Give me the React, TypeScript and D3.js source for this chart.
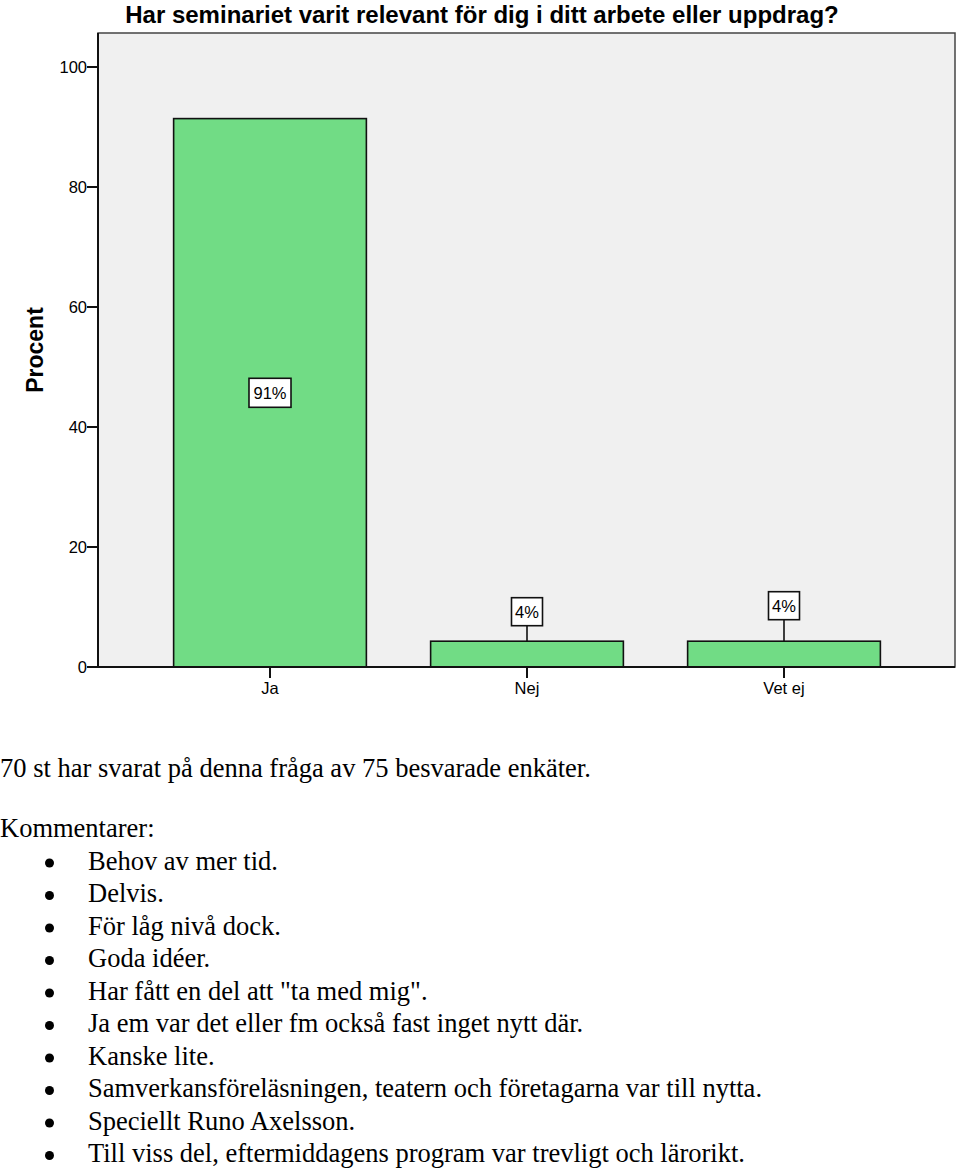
import React from "react";
import * as d3 from "d3";

const categories = ["Ja", "Nej", "Vet ej"];
const values = [91.4, 4.3, 4.3];
const valueLabels = ["91%", "4%", "4%"];
const yTicks = [0, 20, 40, 60, 80, 100];
const title = "Har seminariet varit relevant för dig i ditt arbete eller uppdrag?";
const yTitle = "Procent";
const summary = "70 st har svarat på denna fråga av 75 besvarade enkäter.";
const commentsHeader = "Kommentarer:";
const comments = [
  "Behov av mer tid.",
  "Delvis.",
  "För låg nivå dock.",
  "Goda idéer.",
  "Har fått en del att \"ta med mig\".",
  "Ja em var det eller fm också fast inget nytt där.",
  "Kanske lite.",
  "Samverkansföreläsningen, teatern och företagarna var till nytta.",
  "Speciellt Runo Axelsson.",
  "Till viss del, eftermiddagens program var trevligt och lärorikt.",
];

const W = 960;
const H = 1170;
const plot = { left: 98, right: 955, top: 33, bottom: 667 };
const sans = "'Liberation Sans', Arial, sans-serif";
const serif = "'Liberation Serif', 'Times New Roman', serif";
const serifSize = 26.5;

export default function App() {
  const y = d3.scaleLinear().domain([0, 100]).range([plot.bottom, 67]);
  const x = d3
    .scaleBand<string>()
    .domain(categories)
    .range([141.5, 912.5])
    .paddingInner(0.25)
    .paddingOuter(0.125);

  return (
    <svg
      width={W}
      height={H}
      style={{ position: "absolute", left: 0, top: 0, background: "#fff" }}
    >
      <text
        x={482}
        y={23}
        textAnchor="middle"
        fontFamily={sans}
        fontWeight="bold"
        fontSize={24}
        fill="#000"
      >
        {title}
      </text>
      <rect
        x={plot.left}
        y={plot.top}
        width={plot.right - plot.left}
        height={plot.bottom - plot.top}
        fill="#f0f0f0"
        stroke="#444"
        strokeWidth={1.5}
      />
      {categories.map((c, i) => (
        <rect
          key={c}
          x={x(c)}
          y={y(values[i])}
          width={x.bandwidth()}
          height={plot.bottom - y(values[i])}
          fill="#71dc85"
          stroke="#111"
          strokeWidth={1.6}
        />
      ))}
      {/* axes */}
      <line x1={plot.left} x2={plot.left} y1={plot.top} y2={plot.bottom} stroke="#111" strokeWidth={2} />
      <line x1={plot.left} x2={plot.right} y1={plot.bottom} y2={plot.bottom} stroke="#111" strokeWidth={2} />
      {yTicks.map((t) => (
        <g key={t}>
          <line x1={plot.left - 11} x2={plot.left} y1={y(t)} y2={y(t)} stroke="#111" strokeWidth={2} />
          <text
            x={plot.left - 11}
            y={y(t) + 6}
            textAnchor="end"
            fontFamily={sans}
            fontSize={16.5}
            fill="#000"
          >
            {t}
          </text>
        </g>
      ))}
      {categories.map((c) => {
        const cx = (x(c) as number) + x.bandwidth() / 2;
        return (
          <g key={c}>
            <line x1={cx} x2={cx} y1={plot.bottom} y2={plot.bottom + 11} stroke="#111" strokeWidth={2} />
            <text x={cx} y={plot.bottom + 27} textAnchor="middle" fontFamily={sans} fontSize={16.5} fill="#000">
              {c}
            </text>
          </g>
        );
      })}
      <text
        transform={`translate(43,${(plot.top + plot.bottom) / 2}) rotate(-90)`}
        textAnchor="middle"
        fontFamily={sans}
        fontWeight="bold"
        fontSize={23}
        fill="#000"
      >
        {yTitle}
      </text>
      {/* value labels */}
      {categories.map((c, i) => {
        const cx = (x(c) as number) + x.bandwidth() / 2;
        const top = y(values[i]);
        const inside = plot.bottom - top > 60;
        const boxW = valueLabels[i].length > 2 ? 42 : 31;
        const boxH = inside ? 29 : 28;
        const cy = inside ? (top + plot.bottom) / 2 : i === 1 ? top - 29.5 : top - 35.5;
        return (
          <g key={c}>
            {!inside && (
              <line x1={cx} x2={cx} y1={cy + boxH / 2} y2={top} stroke="#111" strokeWidth={1.6} />
            )}
            <rect
              x={cx - boxW / 2}
              y={cy - boxH / 2}
              width={boxW}
              height={boxH}
              fill="#fff"
              stroke="#111"
              strokeWidth={1.6}
            />
            <text x={cx} y={cy + 6} textAnchor="middle" fontFamily={sans} fontSize={16.5} fill="#000">
              {valueLabels[i]}
            </text>
          </g>
        );
      })}
      {/* text block */}
      <text x={0} y={777} fontFamily={serif} fontSize={serifSize} fill="#000">
        {summary}
      </text>
      <text x={0} y={837} fontFamily={serif} fontSize={serifSize} fill="#000">
        {commentsHeader}
      </text>
      {comments.map((t, i) => {
        const base = 869.5 + i * 32.5;
        return (
          <g key={i}>
            <circle cx={49.5} cy={base - 6.5} r={4.5} fill="#000" />
            <text x={88} y={base} fontFamily={serif} fontSize={serifSize} fill="#000">
              {t}
            </text>
          </g>
        );
      })}
    </svg>
  );
}
